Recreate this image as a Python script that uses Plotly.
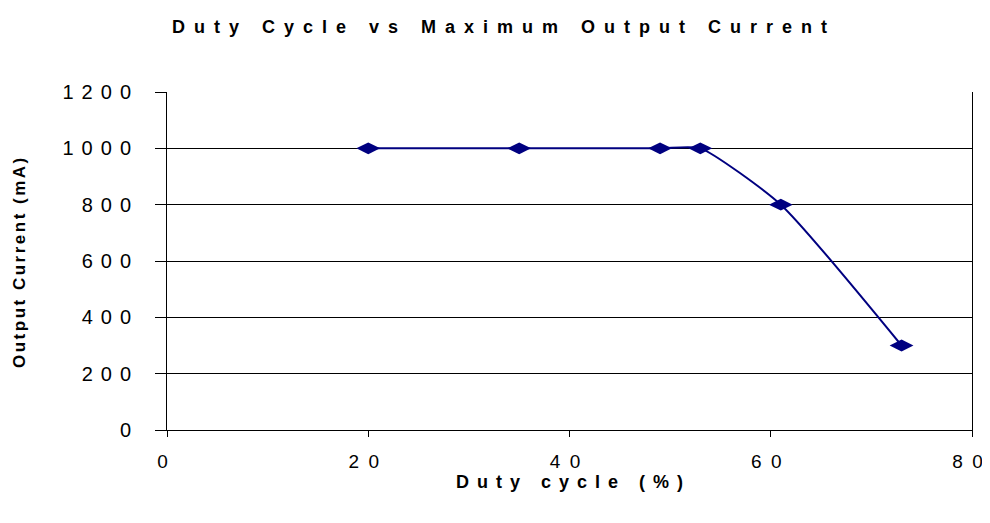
import plotly.graph_objects as go

duty_cycle = [20, 35, 49, 53, 61, 73]
output_current = [1000, 1000, 1000, 1000, 800, 300]
x_ticks = [0, 20, 40, 60, 80]
y_ticks = [0, 200, 400, 600, 800, 1000, 1200]

TITLE = "Duty Cycle vs Maximum Output Current"
X_TITLE = "Duty cycle (%)"
Y_TITLE = "Output Current (mA)"


def spaced(s, ls):
    """Letter-space every character except the last one."""
    s = str(s)
    if len(s) < 2:
        return s
    return f"<span style='letter-spacing:{ls}px'>{s[:-1]}</span>{s[-1]}"


def gapped(s, gap="\u2002"):
    # spaced digits, with a small transparent trailing pad that nudges the label left
    return gap.join(str(s)) + "<span style='fill-opacity:0'>\u2009.</span>"


# the page body has an 8px margin, so the figure is drawn 8px in from the window edge
OFF = 8
W, H = 990 - OFF, 523 - 2 * OFF
L, T = 167 - OFF, 92 - OFF
R = W - (972 - OFF)
B = H - (430 - OFF)
pw, ph = W - L - R, H - T - B
plot_bottom = H - B

fig = go.Figure()
fig.add_trace(go.Scatter(
    x=duty_cycle, y=output_current,
    mode="lines+markers",
    line=dict(color="#000080", width=2, shape="spline", smoothing=0.55),
    marker=dict(symbol="diamond-wide", size=17, color="#000080"),
    showlegend=False,
))

font = "Liberation Sans, Arial, sans-serif"
fig.update_layout(
    width=W, height=H,
    margin=dict(l=L, r=R, t=T, b=B, autoexpand=False),
    paper_bgcolor="white", plot_bgcolor="white",
    font=dict(family=font, color="black"),
    xaxis=dict(
        range=[0, 80], tickvals=x_ticks, ticktext=[gapped(v) for v in x_ticks],
        showgrid=False, zeroline=False, showline=True, linecolor="black", linewidth=1,
        ticks="outside", ticklen=6, tickcolor="black", tickfont=dict(size=19),
        ticklabelstandoff=8, ticklabeloverflow="allow",
        fixedrange=True, automargin=False,
    ),
    yaxis=dict(
        range=[0, 1200], tickvals=y_ticks, ticktext=[spaced(v, 8) for v in y_ticks],
        showgrid=True, gridcolor="black", gridwidth=1, zeroline=False,
        showline=True, linecolor="black", linewidth=1, mirror=True,
        ticks="outside", ticklen=11, tickcolor="black", tickfont=dict(size=20),
        ticklabelstandoff=20, ticklabeloverflow="allow",
        fixedrange=True, automargin=False,
    ),
    annotations=[
        dict(text="<b>" + spaced(TITLE, 9) + "</b>",
             xref="paper", yref="paper", x=(W / 2 - L) / pw, y=1 + (T - (27 - OFF)) / ph,
             xanchor="center", yanchor="middle", showarrow=False,
             font=dict(size=18, family=font)),
        dict(text="<b>" + spaced(X_TITLE, 8) + "</b>",
             xref="paper", yref="paper", x=0.5, y=-((482 - OFF) - plot_bottom) / ph,
             xanchor="center", yanchor="middle", showarrow=False,
             font=dict(size=18, family=font)),
        dict(text="<b>" + spaced(Y_TITLE, 2.5) + "</b>",
             xref="paper", yref="paper", x=-(L - (19 - OFF)) / pw,
             y=(plot_bottom - (263 - OFF)) / ph,
             xanchor="center", yanchor="middle", showarrow=False, textangle=-90,
             font=dict(size=17, family=font)),
    ],
)

fig.write_html("out.html")
